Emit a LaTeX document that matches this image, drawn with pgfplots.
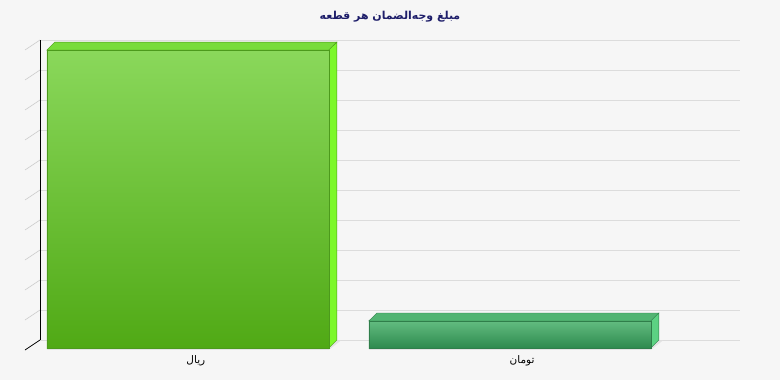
\documentclass[border=0pt]{standalone}
\usepackage{pgfplots}
\pgfplotsset{compat=1.18}
\usepackage{fontspec}
\setmainfont{DejaVu Sans}
\newfontfamily\arabicfont[Script=Arabic]{DejaVu Sans}
\TeXXeTstate=1
\definecolor{bgcol}{HTML}{F6F6F6}
\definecolor{gridcol}{HTML}{DCDCDC}
\definecolor{titlecol}{HTML}{1E1E6A}
\definecolor{rialTop}{HTML}{8AD85B}
\definecolor{rialBot}{HTML}{50A915}
\definecolor{rialCap}{HTML}{78DC3A}
\definecolor{rialSide}{HTML}{7CF82A}
\definecolor{rialEdge}{HTML}{4C9A1C}
\definecolor{tomTop}{HTML}{62BC80}
\definecolor{tomBot}{HTML}{2E8A4E}
\definecolor{tomCap}{HTML}{52B472}
\definecolor{tomSide}{HTML}{5CD283}
\definecolor{tomEdge}{HTML}{2F7E4A}
\begin{document}
\begin{tikzpicture}
\path[use as bounding box, fill=bgcol] (-40bp,-40bp) rectangle (740bp,340bp);
\begin{axis}[
  at={(0,0)}, anchor=south west,
  x=322bp, y=30bp,
  xmin=-0.484, xmax=1.69, ymin=0, ymax=10,
  ytick={0,1,...,10}, xtick=\empty,
  yticklabels={}, 
  ymajorgrids, grid style={gridcol, line width=0.8bp},
  axis line style={draw=none},
  major tick style={draw=none},
  clip=false,
]
% depth ticks on the left wall
\pgfplotsinvokeforeach{1,...,10}{
  \draw[gray!40, line width=0.6bp] (axis cs:-0.484,#1) -- ++(-15bp,-10bp);
}
\draw[black, line width=0.8bp] (axis cs:-0.484,0) -- ++(-15bp,-10bp);
\draw[black, line width=0.8bp] (axis cs:-0.484,0) -- (axis cs:-0.484,10);
% floor shadow
\addplot[fill=gray!22, draw=none] coordinates {(-0.463,-0.330) (0.413,-0.330) (0.450,-0.02) (-0.430,-0.02)} -- cycle;
\addplot[fill=gray!22, draw=none] coordinates {(0.537,-0.330) (1.413,-0.330) (1.450,-0.02) (0.570,-0.02)} -- cycle;
% rial 3D faces
\addplot[fill=rialCap, draw=rialEdge, line width=0.4bp] coordinates {(-0.463,9.663) (0.413,9.663) (0.438,9.93) (-0.438,9.93)} -- cycle;
\addplot[fill=rialSide, draw=rialEdge, line width=0.4bp] coordinates {(0.413,-0.267) (0.438,0) (0.438,9.93) (0.413,9.663)} -- cycle;
% toman 3D faces
\addplot[fill=tomCap, draw=tomEdge, line width=0.4bp] coordinates {(0.537,0.633) (1.413,0.633) (1.438,0.9) (0.562,0.9)} -- cycle;
\addplot[fill=tomSide, draw=tomEdge, line width=0.4bp] coordinates {(1.413,-0.267) (1.438,0) (1.438,0.9) (1.413,0.633)} -- cycle;
% front faces
\addplot[ybar, bar width=282bp, bar shift=-8bp, yshift=-8bp,
  top color=rialTop, bottom color=rialBot, draw=rialEdge, line width=0.4bp]
  coordinates {(0,9.93)};
\addplot[ybar, bar width=282bp, bar shift=-8bp, yshift=-8bp,
  top color=tomTop, bottom color=tomBot, draw=tomEdge, line width=0.4bp]
  coordinates {(1,0.9)};
% category labels
\node[font=\arabicfont\fontsize{10.5}{12}\selectfont, text=black] at (axis cs:0.0,-0.7) {\beginR ریال\endR};
\node[font=\arabicfont\fontsize{10.5}{12}\selectfont, text=black] at (axis cs:1.013,-0.7) {\beginR تومان\endR};
\end{axis}
\node[font=\arabicfont\bfseries\fontsize{11}{13}\selectfont, text=titlecol] at (350bp,323bp) {\beginR مبلغ وجه‌الضمان هر قطعه\endR};
\end{tikzpicture}
\end{document}
